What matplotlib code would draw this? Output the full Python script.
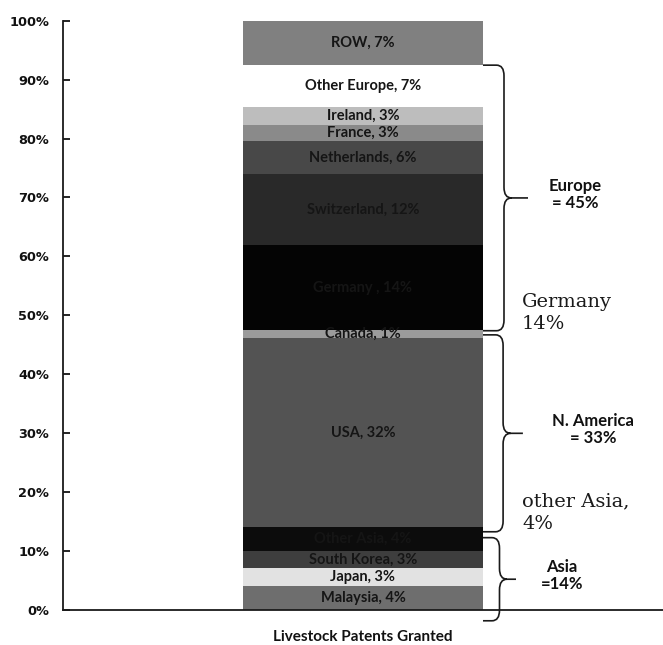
import matplotlib
matplotlib.use("Agg")
import matplotlib.pyplot as plt
from matplotlib.path import Path
from matplotlib.patches import PathPatch

# Share of livestock patents granted, stacked bottom to top
countries = ["Malaysia", "Japan", "South Korea", "Other Asia", "USA", "Canada",
             "Germany ", "Switzerland", "Netherlands", "France", "Ireland",
             "Other Europe", "ROW"]
shares = [4.1, 3.1, 2.8, 4.1, 32.0, 1.4, 14.45, 12.0, 5.6, 2.7, 3.1, 7.2, 7.45]
segment_colors = ["#6e6e6e", "#e2e2e2", "#3e3e3e", "#0c0c0c", "#535353", "#9b9b9b",
                  "#040404", "#292929", "#484848", "#8a8a8a", "#bdbdbd", "#ffffff",
                  "#808080"]

# Regions as (label, first index, last index) into the lists above
regions = [("Asia", 0, 3), ("N. America", 4, 5), ("Europe", 6, 11)]
region_label_fmt = {"Asia": "Asia\n={:d}%", "N. America": "N. America\n= {:d}%",
                    "Europe": "Europe\n= {:d}%"}

fig = plt.figure(figsize=(6.63, 6.45), dpi=100)
ax = fig.add_axes([0.095, 0.054, 0.905, 0.914])

label_font = dict(family="Lato", weight="bold", fontsize=10.5, color="#151515")
bottom = 0.0
bottoms = []
for name, value, color in zip(countries, shares, segment_colors):
    ax.bar(0, value, width=0.8, bottom=bottom, color=color, edgecolor="none")
    ax.text(0, bottom + value / 2, f"{name}, {round(value)}%",
            ha="center", va="center", **label_font)
    bottoms.append(bottom)
    bottom += value


def draw_brace(ax, x0, xv, xtip, y_bot, y_top, rx=0.025, ry=1.8):
    ym = (y_bot + y_top) / 2
    verts = [(x0, y_top), (xv - rx, y_top), (xv, y_top), (xv, y_top - ry),
             (xv, ym + ry), (xv, ym), (xv + rx, ym), (xtip, ym),
             (xv + rx, ym), (xv, ym), (xv, ym - ry),
             (xv, y_bot + ry), (xv, y_bot), (xv - rx, y_bot), (x0, y_bot)]
    codes = [Path.MOVETO, Path.LINETO, Path.CURVE3, Path.CURVE3,
             Path.LINETO, Path.CURVE3, Path.CURVE3, Path.LINETO,
             Path.MOVETO, Path.CURVE3, Path.CURVE3,
             Path.LINETO, Path.CURVE3, Path.CURVE3, Path.LINETO]
    ax.add_patch(PathPatch(Path(verts, codes), fill=False, lw=1.2,
                           edgecolor="#1a1a1a", clip_on=False))
    return ym


brace_geom = {"Asia": (0.40, 0.455, 0.51, -1.8),
              "N. America": (0.40, 0.467, 0.533, -0.8),
              "Europe": (0.40, 0.47, 0.55, -0.1)}
text_x = {"Asia": 0.663, "N. America": 0.767, "Europe": 0.707}

for region, first, last in regions:
    y_bot = bottoms[first]
    y_top = bottoms[last] + shares[last]
    total = sum(shares[first:last + 1])
    x0, xv, xtip, shift = brace_geom[region]
    ym = draw_brace(ax, x0, xv, xtip, y_bot + shift, y_top + shift)
    ax.text(text_x[region], ym + 0.6, region_label_fmt[region].format(round(total)),
            ha="center", va="center", family="Lato", weight="bold",
            fontsize=12, color="#111111", linespacing=1.1)

# Call-outs for the segments whose labels are hard to read
serif_font = dict(family="DejaVu Serif", fontsize=14, color="#1a1a1a",
                  ha="left", va="center", linespacing=1.3)
ax.text(0.53, 50.4, f"Germany\n{round(shares[6])}%", **serif_font)
ax.text(0.53, 16.5, f"other Asia,\n{round(shares[3])}%", **serif_font)

ax.set_xlim(-1, 1)
ax.set_ylim(0, 100)
ax.set_yticks(range(0, 101, 10))
ax.set_yticklabels([f"{v}%" for v in range(0, 101, 10)],
                   family="DejaVu Sans", weight="bold", fontsize=9.3, color="#111111")
ax.tick_params(axis="y", direction="in", length=5, width=1.2, pad=10)
ax.set_xticks([0])
ax.set_xticklabels(["Livestock Patents Granted"], family="Lato", weight="bold",
                   fontsize=11, color="#111111")
ax.tick_params(axis="x", length=0, pad=14)

for side in ("top", "right"):
    ax.spines[side].set_visible(False)
for side in ("left", "bottom"):
    ax.spines[side].set_linewidth(1.3)
    ax.spines[side].set_color("#1a1a1a")

fig.savefig("out.png", dpi=100)
